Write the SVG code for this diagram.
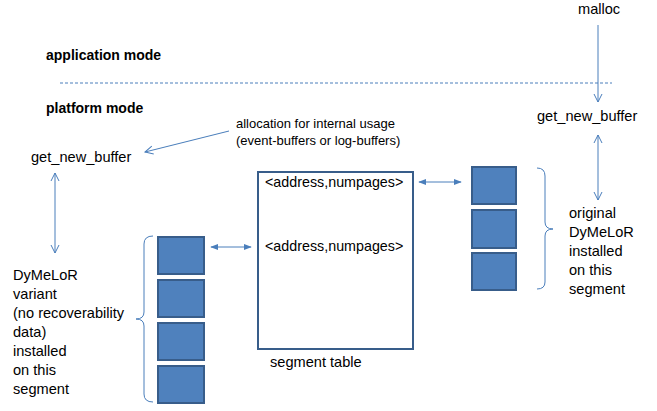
<svg xmlns="http://www.w3.org/2000/svg" width="657" height="411" viewBox="0 0 657 411">
<style>
text{font-family:"Liberation Sans",Arial,sans-serif;font-size:14.6px;fill:#000}
.b{font-weight:bold;font-size:14px}
.s{font-size:13px}
.t{font-size:14.3px}
.blk{fill:#4F81BD;stroke:#385D8A;stroke-width:2}
.ln{fill:none;stroke:#4A7EBB;stroke-width:1}
.table{fill:#fff;stroke:#385D8A;stroke-width:2}
</style>
<defs>
<marker id="open" viewBox="0 0 10 10" refX="9" refY="5" markerWidth="10" markerHeight="10" markerUnits="userSpaceOnUse" orient="auto-start-reverse">
<path d="M1,1 L9,5 L1,9" fill="none" stroke="#4A7EBB" stroke-width="1"/>
</marker>
<marker id="fill" viewBox="0 0 10 10" refX="9" refY="5" markerWidth="8" markerHeight="8" markerUnits="userSpaceOnUse" orient="auto-start-reverse">
<path d="M0,1 L10,5 L0,9 Z" fill="#4A7EBB"/>
</marker>
</defs>
<rect width="657" height="411" fill="#fff"/>
<g id="labels">
<text class="b" x="46" y="60">application mode</text>
<text class="b" x="46" y="113">platform mode</text>
<text x="578" y="14">malloc</text>
</g>
<g id="get_new_buffer_right"><text x="537" y="121">get_new_buffer</text></g>
<g id="get_new_buffer_left"><text x="31" y="162">get_new_buffer</text></g>
<g id="allocation_note">
<text class="s" x="236" y="128">allocation for internal usage</text>
<text class="s" x="236" y="145">(event-buffers or log-buffers)</text>
</g>
<g id="segment_table">
<rect class="table" x="258" y="172" width="155" height="177"/>
<text class="t" x="265" y="187">&lt;address,numpages&gt;</text>
<text class="t" x="265" y="251">&lt;address,numpages&gt;</text>
<text x="270" y="367">segment table</text>
</g>
<g id="original_segment">
<rect class="blk" x="472" y="167" width="44" height="37"/>
<rect class="blk" x="472" y="210" width="44" height="38"/>
<rect class="blk" x="472" y="253" width="44" height="37"/>
<path class="ln" d="M537,168 Q545,168 545,176 L545,222 Q545,229 553,229 Q545,229 545,236 L545,282 Q545,289 537,289"/>
<text x="569" y="218">original</text>
<text x="569" y="237">DyMeLoR</text>
<text x="569" y="256">installed</text>
<text x="569" y="275">on this</text>
<text x="569" y="294">segment</text>
</g>
<g id="variant_segment">
<rect class="blk" x="158" y="237" width="46" height="37"/>
<rect class="blk" x="158" y="280" width="46" height="37"/>
<rect class="blk" x="158" y="323" width="46" height="37"/>
<rect class="blk" x="158" y="366" width="46" height="37"/>
<path class="ln" d="M153,236 Q144,236 144,244 L144,312 Q144,319 136,319 Q144,319 144,326 L144,394 Q144,402 153,402"/>
<text x="13" y="280">DyMeLoR</text>
<text x="13" y="299">variant</text>
<text x="13" y="318">(no recoverability</text>
<text x="13" y="337">data)</text>
<text x="13" y="356">installed</text>
<text x="13" y="375">on this</text>
<text x="13" y="394">segment</text>
</g>
<g id="connectors">
<line class="ln" x1="60" y1="83" x2="612" y2="83" stroke-dasharray="3,2"/>
<line class="ln" x1="598" y1="25" x2="598" y2="102" marker-end="url(#open)"/>
<line class="ln" x1="598" y1="135" x2="598" y2="200" marker-start="url(#open)" marker-end="url(#open)"/>
<line class="ln" x1="55" y1="173" x2="55" y2="253" marker-start="url(#open)" marker-end="url(#open)"/>
<line class="ln" x1="229" y1="131" x2="145" y2="152" marker-end="url(#open)"/>
<line class="ln" x1="419" y1="182" x2="461" y2="182" marker-start="url(#fill)" marker-end="url(#fill)"/>
<line class="ln" x1="211" y1="247" x2="251" y2="247" marker-start="url(#fill)" marker-end="url(#fill)"/>
</g>
</svg>
